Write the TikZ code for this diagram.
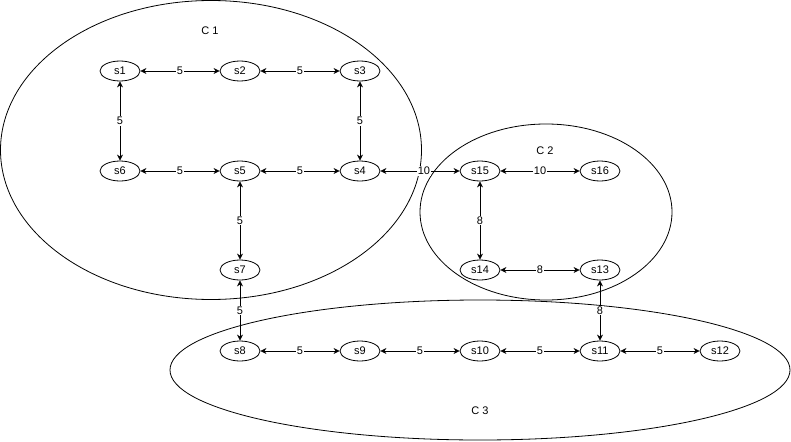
\documentclass[tikz,border=0pt]{standalone}
\usepackage{fontspec}
\setmainfont{Liberation Sans}
\usetikzlibrary{shapes.geometric,arrows.meta}
\begin{document}
\begin{tikzpicture}[x=1pt,y=-1pt,
  state/.style={ellipse,draw,line width=0.8pt,fill=white,minimum width=40pt,minimum height=20pt,inner sep=0pt,font=\fontsize{11}{13}\selectfont},
  cluster/.style={ellipse,draw,line width=0.8pt,inner sep=0pt},
  link/.style={{Stealth[length=6pt,width=6pt]}-{Stealth[length=6pt,width=6pt]},line width=0.8pt},
  wt/.style={fill=white,inner sep=1pt,font=\fontsize{11}{13}\selectfont},
  ctext/.style={font=\fontsize{11}{13}\selectfont}]
\useasboundingbox (0,0) rectangle (791,441);
\node[cluster,minimum width=421pt,minimum height=299pt] (C1) at (211,150) {};
\node[cluster,minimum width=252pt,minimum height=176pt] (C2) at (546,212) {};
\node[cluster,minimum width=620pt,minimum height=140pt] (C3) at (480,370) {};
\node[ctext] (L1) at (210,31) {C 1};
\node[ctext] (L2) at (545,151) {C 2};
\node[ctext] (L3) at (480,411) {C 3};
\node[state] (s1) at (120,71) {s1};
\node[state] (s2) at (240,71) {s2};
\node[state] (s3) at (360,71) {s3};
\node[state] (s6) at (120,171) {s6};
\node[state] (s5) at (240,171) {s5};
\node[state] (s4) at (360,171) {s4};
\node[state] (s7) at (240,270) {s7};
\node[state] (s15) at (480,171) {s15};
\node[state] (s16) at (600,171) {s16};
\node[state] (s14) at (480,270) {s14};
\node[state] (s13) at (600,270) {s13};
\node[state] (s8) at (240,351) {s8};
\node[state] (s9) at (360,351) {s9};
\node[state] (s10) at (480,351) {s10};
\node[state] (s11) at (600,351) {s11};
\node[state] (s12) at (720,351) {s12};
\draw[link] (s1) -- node[wt] {5} (s2);
\draw[link] (s2) -- node[wt] {5} (s3);
\draw[link] (s1) -- node[wt] {5} (s6);
\draw[link] (s3) -- node[wt] {5} (s4);
\draw[link] (s6) -- node[wt] {5} (s5);
\draw[link] (s5) -- node[wt] {5} (s4);
\draw[link] (s5) -- node[wt] {5} (s7);
\draw[link] (s4) -- node[wt,pos=0.55] {10} (s15);
\draw[link] (s15) -- node[wt] {10} (s16);
\draw[link] (s15) -- node[wt] {8} (s14);
\draw[link] (s14) -- node[wt] {8} (s13);
\draw[link] (s13) -- node[wt] {8} (s11);
\draw[link] (s7) -- node[wt] {5} (s8);
\draw[link] (s8) -- node[wt] {5} (s9);
\draw[link] (s9) -- node[wt] {5} (s10);
\draw[link] (s10) -- node[wt] {5} (s11);
\draw[link] (s11) -- node[wt] {5} (s12);
\end{tikzpicture}
\end{document}
